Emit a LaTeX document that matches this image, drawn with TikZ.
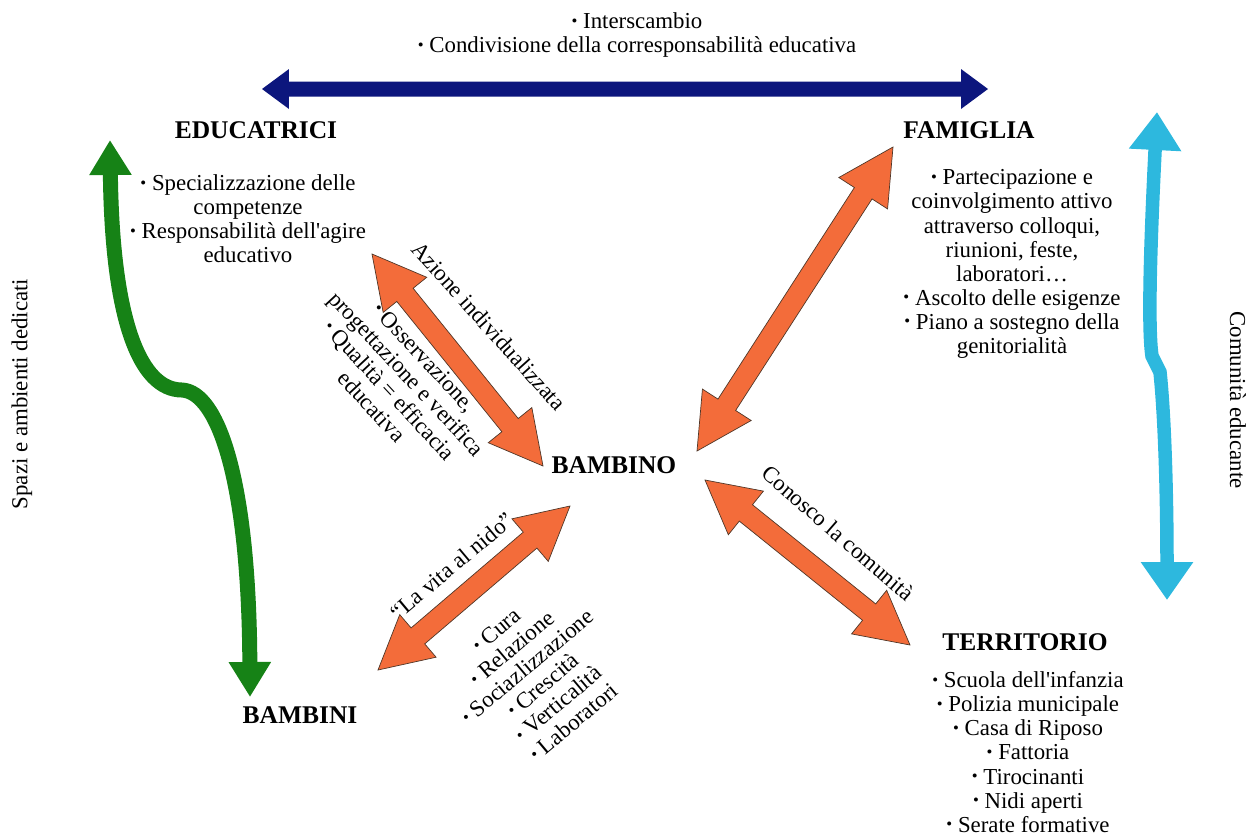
\documentclass[tikz,border=0pt]{standalone}
\usepackage{fontspec}
\setmainfont{Liberation Serif}[Ligatures=TeXOff]
\usetikzlibrary{calc,arrows.meta}
\definecolor{navyA}{RGB}{12,22,125}
\definecolor{greenA}{RGB}{22,130,22}
\definecolor{cyanA}{RGB}{45,184,222}
\definecolor{orangeA}{RGB}{243,108,58}
\definecolor{edgeA}{RGB}{80,55,40}
\newcommand\bul{\raisebox{0.1em}{\fontsize{9.5}{9.5}\selectfont\textbullet}\hspace{0.25em}}
% block double arrow: start, end, head length, head half width, shaft half width, style
\newcommand\blockarrow[6]{%
  \coordinate (#1-#2-h1) at ($(#1)!#3!(#2)$);
  \coordinate (#1-#2-h2) at ($(#2)!#3!(#1)$);
  \path[#6] (#1) -- ($(#1-#2-h1)!#4!90:(#2)$) -- ($(#1-#2-h1)!#5!90:(#2)$)
    -- ($(#1-#2-h2)!#5!-90:(#1)$) -- ($(#1-#2-h2)!#4!-90:(#1)$) -- (#2)
    -- ($(#1-#2-h2)!#4!90:(#1)$) -- ($(#1-#2-h2)!#5!90:(#1)$)
    -- ($(#1-#2-h1)!#5!-90:(#2)$) -- ($(#1-#2-h1)!#4!-90:(#2)$) -- cycle;}
\begin{document}
\begin{tikzpicture}[x=0.02cm,y=-0.02cm,
  txt/.style={font=\fontsize{13}{13.7}\selectfont, align=center, inner sep=0pt},
  heading/.style={font=\fontsize{14.5}{16}\selectfont\bfseries, inner sep=0pt},
  orangearrow/.style={fill=orangeA, draw=edgeA, line width=0.4pt, line join=miter},
  navyarrow/.style={fill=navyA},
  greenarrow/.style={draw=greenA, line width=0.3cm,
    arrows={Triangle[length=0.7cm,width=0.8cm]-Triangle[length=0.7cm,width=0.8cm]}},
  cyanarrow/.style={draw=cyanA, line width=0.27cm,
    arrows={Triangle[length=0.76cm,width=1.0cm]-Triangle[length=0.76cm,width=1.0cm]}}
]
\useasboundingbox (0,0) rectangle (1250,836);

% headings
\node[heading] (edu) at (256,130) {EDUCATRICI};
\node[heading] (fam) at (969,130) {FAMIGLIA};
\node[heading] (bbo) at (614,465) {BAMBINO};
\node[heading] (bbi) at (300,715) {BAMBINI};
\node[heading] (ter) at (1025,642) {TERRITORIO};

% texts
\node[txt] (top) at (637,35) {\bul Interscambio\\ \bul Condivisione della corresponsabilità educativa};
\node[txt] (edulist) at (248,219) {\bul Specializzazione delle\\ competenze\\ \bul Responsabilità dell'agire\\ educativo};
\node[txt] (famlist) at (1012,264) {\bul Partecipazione e\\ coinvolgimento attivo\\ attraverso colloqui,\\ riunioni, feste,\\ laboratori…\\ \bul Ascolto delle esigenze\\ \bul Piano a sostegno della\\ genitorialità};
\node[txt] (terlist) at (1028,752) {\bul Scuola dell'infanzia\\ \bul Polizia municipale\\ \bul Casa di Riposo\\ \bul Fattoria\\ \bul Tirocinanti\\ \bul Nidi aperti\\ \bul Serate formative};

\node[txt, rotate=-48] (azione) at (489,326) {Azione individualizzata};
\node[txt, rotate=-47] (oss) at (398,382) {\bul Osservazione,\\ progettazione e verifica\\ \bul Qualità = efficacia\\ educativa};
\node[txt, rotate=40] (vita) at (452,566) {“La vita al nido”};
\node[txt, rotate=40] (cura) at (535,676) {\bul Cura\\ \bul Relazione\\ \bul Sociazlizzazione\\ \bul Crescità\\ \bul Verticalità\\ \bul Laboratori};
\node[txt, rotate=-41] (conosco) at (838,533) {Conosco la comunità};
\node[txt, rotate=90] (spazi) at (22,394) {Spazi e ambienti dedicati};
\node[txt, rotate=-90] (comu) at (1238,400) {Comunità educante};

% navy arrow
\coordinate (n1) at (262,89);
\coordinate (n2) at (988,89);
\blockarrow{n1}{n2}{0.54cm}{0.4cm}{0.15cm}{navyarrow}

% orange arrows
\coordinate (a1) at (372,254);
\coordinate (a2) at (543,466);
\blockarrow{a1}{a2}{1.05cm}{0.56cm}{0.21cm}{orangearrow}
\coordinate (b1) at (893,147);
\coordinate (b2) at (697,451);
\blockarrow{b1}{b2}{1.1cm}{0.58cm}{0.21cm}{orangearrow}
\coordinate (c1) at (570,506);
\coordinate (c2) at (378,670);
\blockarrow{c1}{c2}{1.05cm}{0.56cm}{0.21cm}{orangearrow}
\coordinate (d1) at (705,480);
\coordinate (d2) at (910,645);
\blockarrow{d1}{d2}{1.05cm}{0.56cm}{0.21cm}{orangearrow}

% green curved arrow
\coordinate (g1) at (110,140);
\coordinate (g2) at (250,697);
\draw[greenarrow] (g1) .. controls (112,320) and (140,390) .. (182,390)
  .. controls (218,392) and (249,480) .. (g2);

% cyan arrow
\coordinate (s1) at (1157,112);
\coordinate (s2) at (1167,600);
\draw[cyanarrow] (s1) .. controls (1150,250) and (1148,330) .. (1152,356)
  -- (1160,372) .. controls (1165,420) and (1167,500) .. (s2);
\end{tikzpicture}
\end{document}
